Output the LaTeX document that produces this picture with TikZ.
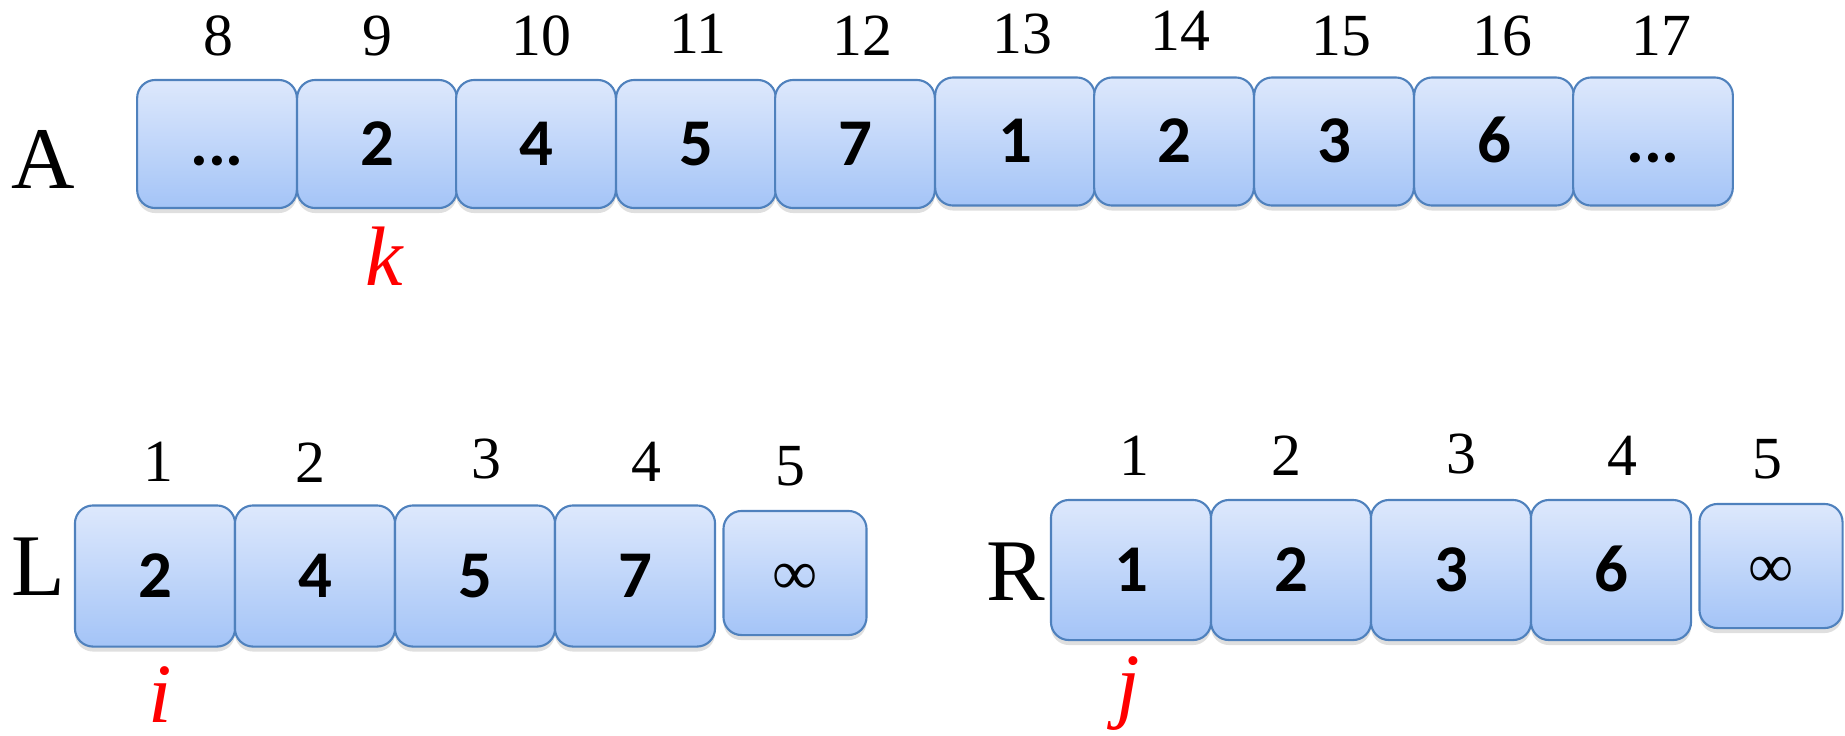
\documentclass[tikz,border=0pt]{standalone}
\usepackage{fontspec}
\usepackage{tikz}
\usetikzlibrary{shadows}
\usepackage{xcolor}

\newfontfamily\labelfont{Liberation Serif}
\newfontfamily\cellfont{Carlito}

\definecolor{celltop}{RGB}{221,232,252}
\definecolor{cellbot}{RGB}{164,196,247}
\definecolor{cellline}{RGB}{79,129,189}

\tikzset{
    cell/.style={draw=cellline, line width=0.6pt, rounded corners=0.18cm,
        top color=celltop, bottom color=cellbot, inner sep=0pt,
        text height=0.42cm, text depth=0pt,
        font=\cellfont\bfseries\fontsize{19}{19}\selectfont,
        drop shadow={shadow xshift=0pt, shadow yshift=-0.05cm, opacity=0.25}},
    topcell/.style={cell, minimum width=1.596cm, minimum height=1.28cm},
    subcell/.style={cell, minimum width=1.6cm, minimum height=1.41cm},
    infcell/.style={cell, minimum width=1.43cm, minimum height=1.24cm,
        font=\labelfont\fontsize{18}{18}\selectfont},
    idx/.style={anchor=base, inner sep=0pt, font=\labelfont\fontsize{17}{17}\selectfont},
    arrname/.style={anchor=base, inner sep=0pt, font=\labelfont\fontsize{25}{25}\selectfont},
    ptr/.style={anchor=base, inner sep=0pt, text=red, font=\labelfont\itshape\fontsize{24}{24}\selectfont}
}

\begin{document}
\begin{tikzpicture}[x=0.01cm, y=-0.01cm]
    \useasboundingbox (0,0) rectangle (1845,735);

    % Array A
    \node[arrname] (nameA) at (43,188) {A};
    \node[topcell] (a8) at (217,144) {...};
    \node[topcell] (a9) at (377,144) {2};
    \node[topcell] (a10) at (536,144) {4};
    \node[topcell] (a11) at (696,144) {5};
    \node[topcell] (a12) at (855,144) {7};
    \node[topcell] (a13) at (1015,141.5) {1};
    \node[topcell] (a14) at (1174,141.5) {2};
    \node[topcell] (a15) at (1334,141.5) {3};
    \node[topcell] (a16) at (1494,141.5) {6};
    \node[topcell] (a17) at (1653,141.5) {...};

    % indices of A
    \node[idx] (ia8) at (218,55) {8};
    \node[idx] (ia9) at (377,55) {9};
    \node[idx] (ia10) at (541,55) {10};
    \node[idx] (ia11) at (698,53) {11};
    \node[idx] (ia12) at (862,55) {12};
    \node[idx] (ia13) at (1022,53) {13};
    \node[idx] (ia14) at (1180,50) {14};
    \node[idx] (ia15) at (1341,55) {15};
    \node[idx] (ia16) at (1502,55) {16};
    \node[idx] (ia17) at (1661,55) {17};
    \node[ptr] (k) at (384,285) {k};

    % Left half L
    \node[arrname] (nameL) at (38,595) {L};
    \node[subcell] (l1) at (155,576) {2};
    \node[subcell] (l2) at (315,576) {4};
    \node[subcell] (l3) at (475,576) {5};
    \node[subcell] (l4) at (635,576) {7};
    \node[infcell] (l5) at (795,573) {∞};
    \node[idx] (il1) at (158,481) {1};
    \node[idx] (il2) at (310,482) {2};
    \node[idx] (il3) at (486,478) {3};
    \node[idx] (il4) at (646,481) {4};
    \node[idx] (il5) at (790,485) {5};
    \node[ptr] (i) at (160,722) {i};

    % Right half R
    \node[arrname] (nameR) at (1016,600) {R};
    \node[subcell, minimum height=1.40cm] (r1) at (1131,570) {1};
    \node[subcell, minimum height=1.40cm] (r2) at (1291,570) {2};
    \node[subcell, minimum height=1.40cm] (r3) at (1451,570) {3};
    \node[subcell, minimum height=1.40cm] (r4) at (1611,570) {6};
    \node[infcell] (r5) at (1771,566) {∞};
    \node[idx] (ir1) at (1134,475) {1};
    \node[idx] (ir2) at (1286,475) {2};
    \node[idx] (ir3) at (1461,473) {3};
    \node[idx] (ir4) at (1622,475) {4};
    \node[idx] (ir5) at (1767,478) {5};
    \node[ptr] (j) at (1128,712) {j};
\end{tikzpicture}
\end{document}
